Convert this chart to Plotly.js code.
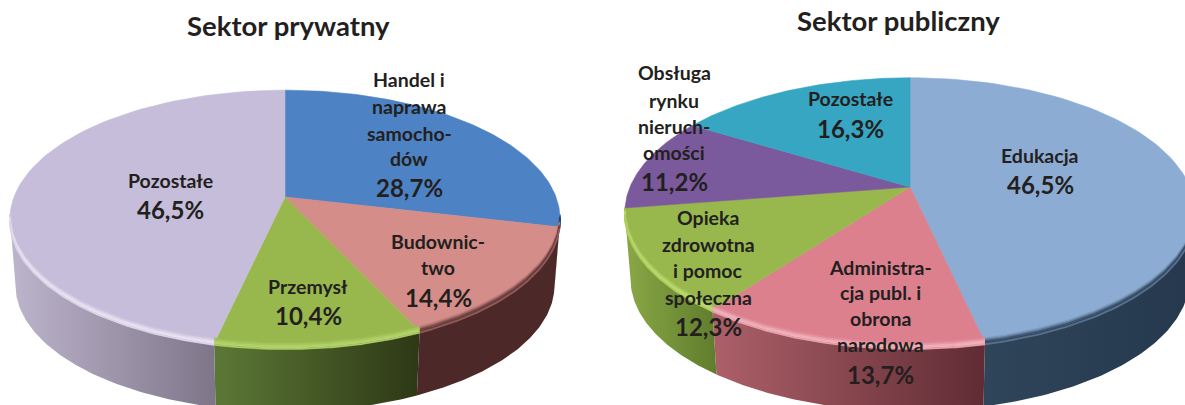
<!DOCTYPE html>
<html><head><meta charset="utf-8">
<script src="https://cdn.plot.ly/plotly-3.0.1.min.js"></script>
<style>html,body{margin:0;padding:0;background:#fff;overflow:hidden}#c{width:1185px;height:405px}</style>
</head><body><div id="c"></div>
<script>
// ---- data ----
const privateCategories = ["Handel i\nnaprawa\nsamocho-\ndów", "Budownic-\ntwo", "Przemysł", "Pozostałe"];
const privateValues = [28.7, 14.4, 10.4, 46.5];
const publicCategories = ["Edukacja", "Administra-\ncja publ. i\nobrona\nnarodowa", "Opieka\nzdrowotna\ni pomoc\nspołeczna", "Obsługa\nrynku\nnieruch-\nomości", "Pozostałe"];
const publicValues = [46.5, 13.7, 12.3, 11.2, 16.3];
const chartTitles = ["Sektor prywatny", "Sektor publiczny"];

// ---- styles ----
const privateFaces = ["#4d83c4", "#d48d89", "#98b84e", "#c5bdd9"];
const privateWalls = [["#17375e","#17375e"], ["#4d2828","#4d2828"], ["#5c7836","#2d3815"], ["#bdb5cc","#7e7589"]];
const privateBevel = ["#17375e", "#5a3232", "#b6d670", "#ece6f4"];
const publicFaces = ["#8cacd4", "#dc808e", "#98b84e", "#7a5a9c", "#37a6c3"];
const publicWalls = [["#2f4559","#25384e"], ["#ad6069","#602c34"], ["#8aa845","#5f7d2d"], ["#5a3f78","#5a3f78"], ["#1f6f85","#1f6f85"]];
const publicBevel = ["#2b3f55", "#f2b8c0", "#bede6e", "#7a5a9c", "#37a6c3"];
const ink = "#231f20";
const labelFont = "Lato, 'Open Sans', sans-serif";

// ---- projection of a tilted disc ----
const privateDisc = {cx:285, cy:197, B:271, A:125, k:0.17, drop:67, s:0.98};
const publicDisc  = {cx:910, cy:187, B:280, A:130, k:0.19, drop:67, s:0.98};
function rim(d, frac, bottom, lift){
  const t = frac*2*Math.PI, u = Math.sin(t), v = -Math.cos(t), w = 1-d.k*v;
  const s = bottom ? d.s : 1, off = bottom ? d.drop : (lift||0);
  return [d.cx + d.B*s*u/w, d.cy + off + d.A*s*v/w, v];
}
function hex(c){return [1,3,5].map(i=>parseInt(c.slice(i,i+2),16));}
function mix(a,b,t){const x=hex(a),y=hex(b);return "rgb("+x.map((q,i)=>Math.round(q+(y[i]-q)*t)).join(",")+")";}

const traces = [];
function addPie(d, values, faces, walls, bevels){
  const total = values.reduce((a,b)=>a+b,0);
  let acc = 0;
  const spans = values.map(v=>{const s=[acc/total,(acc+v)/total];acc+=v;return s;});
  const N = 90;
  const frs = sp => Array.from({length:N+1},(_,i)=>sp[0]+(sp[1]-sp[0])*i/N);
  // the wall is only seen between the two side tangents of the disc
  const tR = Math.acos(-d.k)/(2*Math.PI), tL = 1-tR;
  const front = sp => [Math.max(sp[0],tR), Math.min(sp[1],tL)];
  spans.forEach((sp,i)=>{
    const fr = front(sp);
    if(fr[1]<=fr[0]) return;
    const f = frs(fr);
    const top = f.map(q=>rim(d,q,false)), bot = f.map(q=>rim(d,q,true)).reverse();
    const all = top.concat(bot);
    all.push(top[0]);
    traces.push({type:"scatter",mode:"lines",x:all.map(p=>p[0]),y:all.map(p=>p[1]),fill:"toself",
      line:{width:0},hoverinfo:"skip",showlegend:false,
      fillgradient:{type:"horizontal",colorscale:[[0,walls[i][0]],[1,walls[i][1]]]}});
  });
  // top face
  spans.forEach((sp,i)=>{
    const pts = frs(sp).map(q=>rim(d,q,false));
    const xs=[d.cx].concat(pts.map(p=>p[0]),[d.cx]), ys=[d.cy].concat(pts.map(p=>p[1]),[d.cy]);
    traces.push({type:"scatter",mode:"lines",x:xs,y:ys,fill:"toself",fillcolor:faces[i],
      line:{width:0.6,color:faces[i]},hoverinfo:"skip",showlegend:false});
  });
  // bevel on the front of the rim
  const band = [[-4.5,0.15],[-3,0.45],[-1.5,0.8],[0,0.9],[1.5,0.55]];
  spans.forEach((sp,i)=>{
    const fr = front(sp);
    if(fr[1]<=fr[0]) return;
    band.forEach(b=>{
      const pts = frs(fr).map(q=>rim(d,q,false,b[0]));
      traces.push({type:"scatter",mode:"lines",x:pts.map(p=>p[0]),y:pts.map(p=>p[1]),
        line:{width:1.8,color:mix(faces[i],bevels[i],b[1])},hoverinfo:"skip",showlegend:false});
    });
  });
}
addPie(privateDisc, privateValues, privateFaces, privateWalls, privateBevel);
addPie(publicDisc, publicValues, publicFaces, publicWalls, publicBevel);

// ---- text placement ----
const privateTextX = [409, 438, 308, 170];
const privateTextY = [[79,106,133,158,187],[241,267,297],[286,315],[180,209]];
const publicTextX = [1040, 880, 708, 674, 850];
const publicTextY = [[155,184],[267,292,318,344,374],[217,244,270,297,326],[72,100,126,152,181],[98,128]];
const pct = v => v.toFixed(1).replace(".",",")+"%";
const annotations = [];
function addLabels(cats, vals, xs, ys){
  cats.forEach((c,i)=>{
    const lines = c.split("\n");
    lines.forEach((ln,j)=>annotations.push({x:xs[i],y:ys[i][j],xref:"x",yref:"y",text:ln,showarrow:false,
      font:{family:labelFont,size:19.5,color:ink,weight:700},xanchor:"center",yanchor:"middle"}));
    annotations.push({x:xs[i],y:ys[i][lines.length],xref:"x",yref:"y",text:pct(vals[i]),showarrow:false,
      font:{family:labelFont,size:24,color:ink,weight:700},xanchor:"center",yanchor:"middle"});
  });
}
addLabels(privateCategories, privateValues, privateTextX, privateTextY);
addLabels(publicCategories, publicValues, publicTextX, publicTextY);
[[288,25],[898,20]].forEach((p,i)=>annotations.push({x:p[0],y:p[1],xref:"x",yref:"y",text:chartTitles[i],showarrow:false,
  font:{family:labelFont,size:27.5,color:ink,weight:700},xanchor:"center",yanchor:"middle"}));

Plotly.newPlot("c", traces, {
  width:1185,height:405,margin:{l:0,r:0,t:0,b:0},paper_bgcolor:"#fff",plot_bgcolor:"#fff",showlegend:false,
  xaxis:{range:[0,1185],visible:false,fixedrange:true},
  yaxis:{range:[405,0],visible:false,fixedrange:true},
  annotations
},{displayModeBar:false,staticPlot:true});
</script></body></html>
